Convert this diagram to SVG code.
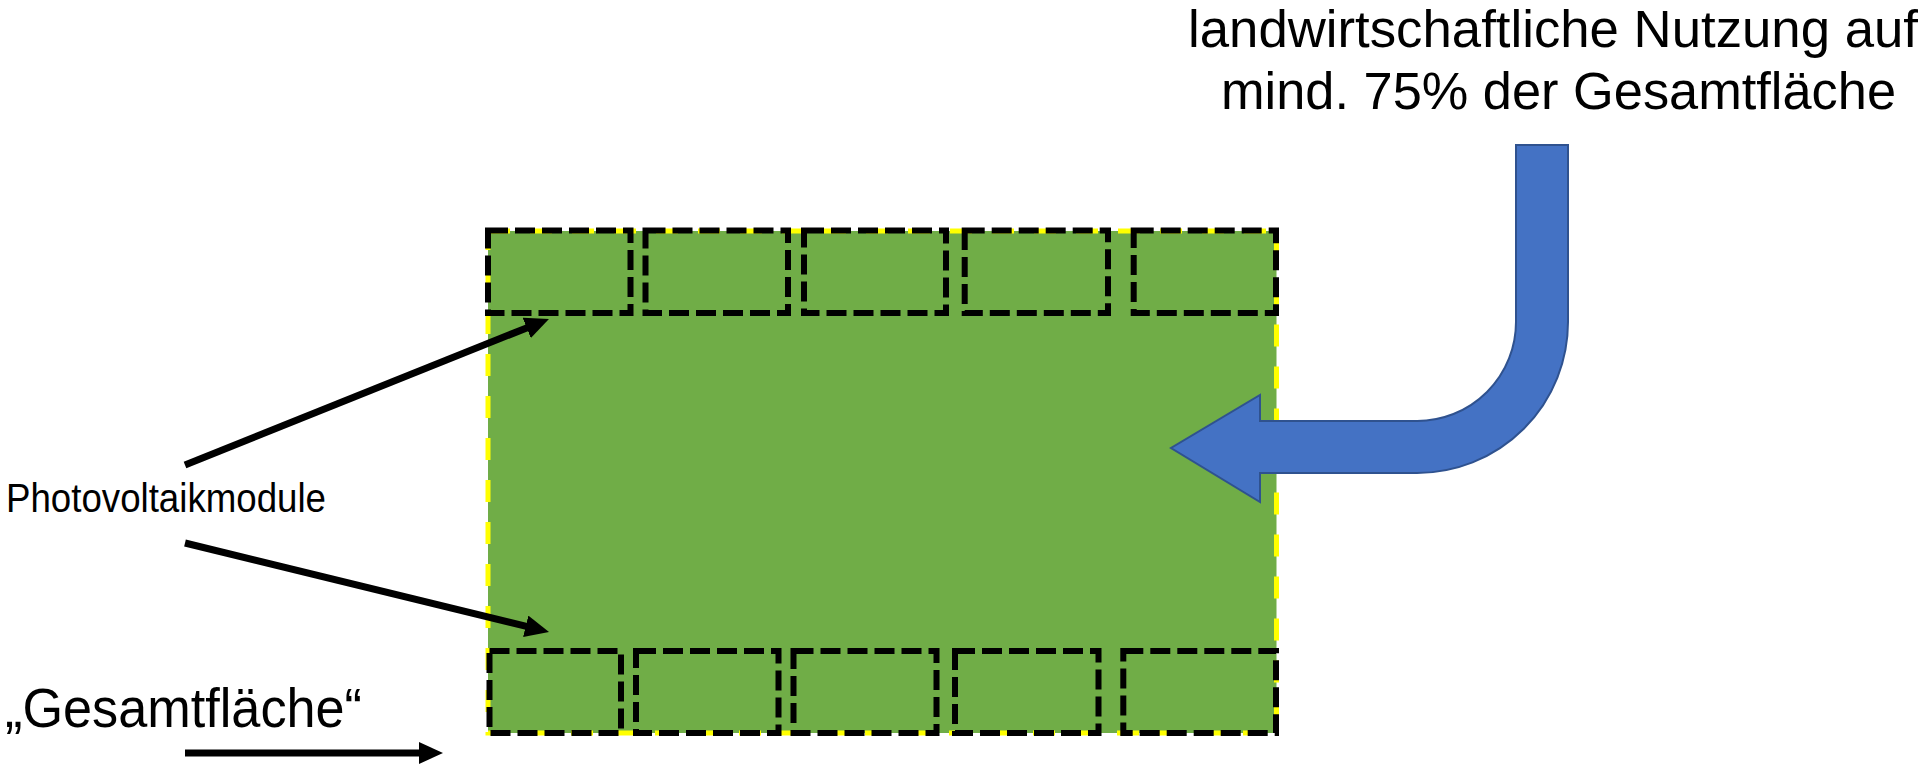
<svg xmlns="http://www.w3.org/2000/svg" width="1929" height="764" viewBox="0 0 1929 764">
  <style>
    .label { font-family: "Liberation Sans", Arial, sans-serif; fill: #000000; }
    .field { fill: #70AD47; stroke: #FFFF00; stroke-width: 5; stroke-dasharray: 22 20; }
    .module { fill: none; stroke: #000000; stroke-width: 6; stroke-dasharray: 20 7; }
    .pointer { stroke: #000000; stroke-width: 7; fill: none; marker-end: url(#head); }
    .bent { fill: #4472C4; stroke: #2F528F; stroke-width: 2; stroke-linejoin: miter; }
  </style>
  <defs>
    <marker id="head" markerUnits="userSpaceOnUse" viewBox="0 0 24 22" markerWidth="24" markerHeight="22" refX="4" refY="11" orient="auto">
      <path d="M0,0 L24,11 L0,22 z" fill="#000000"/>
    </marker>
  </defs>

  <!-- total area -->
  <g id="gesamtflaeche">
    <rect class="field" x="488" y="231" width="788.5" height="502"/>
  </g>

  <!-- PV module rows -->
  <g id="module-top">
    <rect class="module" x="488" y="230.5" width="142.5" height="82.5"/>
    <rect class="module" x="645.5" y="230.5" width="142.5" height="82.5"/>
    <rect class="module" x="804" y="230.5" width="142" height="82.5"/>
    <rect class="module" x="964.7" y="230.5" width="143.3" height="82.5"/>
    <rect class="module" x="1133.7" y="230.5" width="142.3" height="82.5"/>
  </g>
  <g id="module-bottom">
    <rect class="module" x="489.5" y="651" width="131.5" height="82"/>
    <rect class="module" x="636" y="651" width="142.5" height="82"/>
    <rect class="module" x="793.5" y="651" width="143" height="82"/>
    <rect class="module" x="955" y="651" width="143.5" height="82"/>
    <rect class="module" x="1123.3" y="651" width="152.7" height="82"/>
  </g>

  <!-- labels -->
  <g id="label-nutzung">
    <text class="label" font-size="51" x="1188" y="47" textLength="730" lengthAdjust="spacingAndGlyphs">landwirtschaftliche Nutzung auf</text>
    <text class="label" font-size="51" x="1221" y="109" textLength="675" lengthAdjust="spacingAndGlyphs">mind. 75% der Gesamtfläche</text>
  </g>
  <g id="label-pv">
    <text class="label" font-size="40" x="6" y="512" textLength="320" lengthAdjust="spacingAndGlyphs">Photovoltaikmodule</text>
  </g>
  <g id="label-gesamt">
    <text class="label" font-size="55" x="5" y="727" textLength="357" lengthAdjust="spacingAndGlyphs">„Gesamtfläche“</text>
  </g>

  <!-- connectors -->
  <g id="connectors">
    <line class="pointer" x1="185" y1="465" x2="530.4" y2="326.4"/>
    <line class="pointer" x1="185" y1="543" x2="529.6" y2="627.2"/>
    <line class="pointer" x1="185" y1="753" x2="423" y2="753"/>
    <path class="bent" d="M1516,145 L1568,145 L1568,322 A151,151 0 0 1 1417,473 L1260,473 L1260,502 L1171,448 L1260,395 L1260,421 L1417,421 A99,99 0 0 0 1516,322 Z"/>
  </g>
</svg>
